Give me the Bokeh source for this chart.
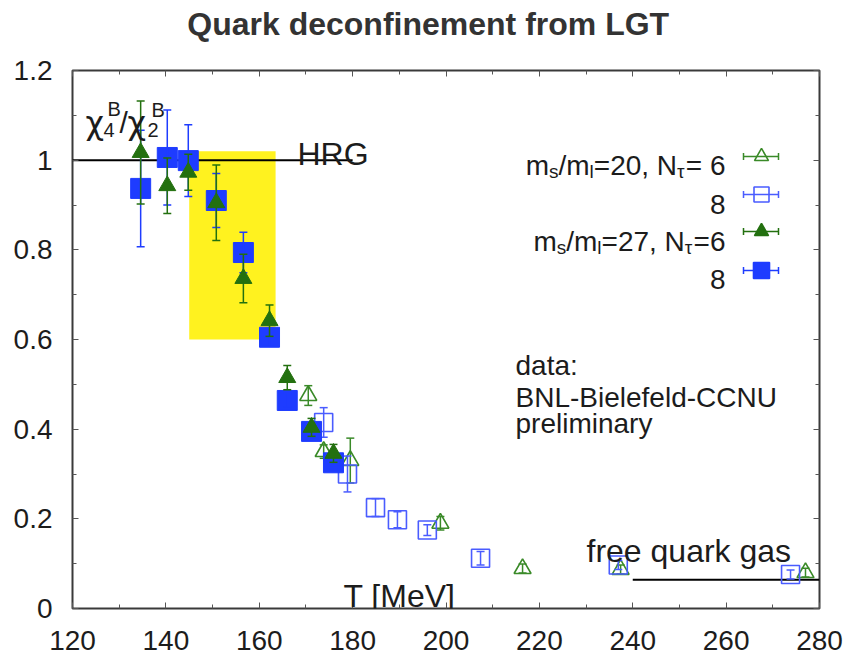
import math
from bokeh.plotting import figure
from bokeh.models import Range1d, FixedTicker, LinearAxis, Label
from bokeh.embed import file_html
from bokeh.resources import INLINE

# chi4/chi2 of baryon number vs temperature T [MeV]
# m_s/m_l = 20, N_tau = 6  (open triangles)
T_m20_nt6 = [170.5, 173.8, 179.5, 198.8, 216.4, 237.4, 277.0]
r_m20_nt6 = [0.475, 0.350, 0.330, 0.190, 0.089, 0.087, 0.080]
e_m20_nt6 = [0.022, 0.015, 0.050, 0.015, 0.010, 0.010, 0.010]

# m_s/m_l = 20, N_tau = 8  (open squares)
T_m20_nt8 = [173.8, 178.9, 184.9, 189.6, 196.0, 207.4, 236.9, 273.8]
r_m20_nt8 = [0.415, 0.300, 0.225, 0.198, 0.175, 0.112, 0.097, 0.076]
e_m20_nt8 = [0.033, 0.040, 0.020, 0.018, 0.012, 0.015, 0.010, 0.010]

# m_s/m_l = 27, N_tau = 6  (filled triangles)
T_m27_nt6 = [134.6, 140.3, 144.8, 150.8, 156.6, 162.2, 166.0, 171.2, 175.9]
r_m27_nt6 = [1.017, 0.943, 0.973, 0.905, 0.736, 0.642, 0.515, 0.404, 0.346]
e_m27_nt6 = [0.115, 0.062, 0.040, 0.084, 0.054, 0.035, 0.027, 0.020, 0.020]

# m_s/m_l = 27, N_tau = 8  (filled squares)
T_m27_nt8 = [134.6, 140.3, 144.8, 150.8, 156.6, 162.2, 166.0, 171.2, 175.9]
r_m27_nt8 = [0.937, 1.006, 0.999, 0.910, 0.794, 0.605, 0.464, 0.395, 0.325]
e_m27_nt8 = [0.130, 0.106, 0.080, 0.060, 0.045, 0.020, 0.015, 0.015, 0.015]

# reference limits: hadron resonance gas and free quark gas
hrg_T = [120, 180]
hrg_r = [1.0, 1.0]
sb_T = [240, 280]
sb_r = [0.064, 0.064]

# crossover band
band_T = [145.0, 163.5]
band_r = [0.60, 1.02]

x_ticks = [120, 140, 160, 180, 200, 220, 240, 260, 280]
x_minor = [130, 150, 170, 190, 210, 230, 250, 270]
y_ticks = [0.0, 0.2, 0.4, 0.6, 0.8, 1.0, 1.2]
y_minor = [0.1, 0.3, 0.5, 0.7, 0.9, 1.1]
y_tick_labels = ["0", "0.2", "0.4", "0.6", "0.8", "1", "1.2"]

HEADING = "Quark deconfinement from LGT"

GREEN = "#23700f"
GREEN_OPEN = "#3a8a28"
BLUE = "#1e3cff"
BLUE_OPEN = "#4a5cff"
YELLOW = "#fff21f"
INK = "#1c1c1c"
FONT = "Liberation Sans"

X0, X1 = 120, 280
Y0, Y1 = 0.0, 1.2
FL, FR, FT, FB = 72, 819, 70, 608   # frame edges on the canvas

p = figure(frame_width=FR - FL, frame_height=FB - FT,
           x_range=Range1d(X0, X1), y_range=Range1d(Y0, Y1),
           output_backend="svg", toolbar_location=None,
           min_border_left=FL, min_border_right=852 - FR,
           min_border_top=FT, min_border_bottom=658 - FB)

p.grid.visible = False
p.outline_line_color = "#3a3a3a"
p.outline_line_width = 2
p.background_fill_color = "white"
p.border_fill_color = "white"


def style_axis(ax, ticks, minor, labels=None):
    ax.ticker = FixedTicker(ticks=ticks, minor_ticks=minor)
    ax.axis_line_color = None
    ax.major_tick_in = 6
    ax.major_tick_out = 0
    ax.minor_tick_in = 4
    ax.minor_tick_out = 0
    ax.major_tick_line_color = "#555555"
    ax.minor_tick_line_color = "#555555"
    ax.major_tick_line_width = 1
    ax.minor_tick_line_width = 1
    ax.major_label_text_font = FONT
    ax.major_label_text_font_size = "28px"
    ax.major_label_text_color = INK
    if labels is not None:
        ax.major_label_overrides = {t: s for t, s in zip(ticks, labels)}


xb = p.xaxis[0]
yl = p.yaxis[0]
style_axis(xb, x_ticks, x_minor)
style_axis(yl, y_ticks, y_minor, y_tick_labels)
xb.major_label_standoff = 22
yl.major_label_standoff = 20

# mirrored tick marks on the top and right edges, without numbers;
# the top axis carries the heading as its label (trailing no-break
# spaces centre the words on the whole canvas rather than the frame)
xt = LinearAxis()
style_axis(xt, x_ticks, x_minor, [""] * len(x_ticks))
xt.major_label_text_font_size = "1px"
xt.major_label_standoff = 0
xt.axis_label = HEADING + "\u00a0" * 4
xt.axis_label_standoff = 29
xt.axis_label_text_font = FONT
xt.axis_label_text_font_style = "bold"
xt.axis_label_text_font_size = "32px"
xt.axis_label_text_color = "#333333"
p.add_layout(xt, "above")
yr = LinearAxis()
style_axis(yr, y_ticks, y_minor, [""] * len(y_ticks))
yr.major_label_text_font_size = "1px"
yr.major_label_standoff = 0
p.add_layout(yr, "right")

# crossover band and limiting values
p.quad(left=[band_T[0]], right=[band_T[1]], bottom=[band_r[0]], top=[band_r[1]],
       fill_color=YELLOW, line_color=None)
p.line(hrg_T, hrg_r, line_color="black", line_width=2)
p.line(sb_T, sb_r, line_color="black", line_width=2)


def errbars(T, r, e, color):
    lo = [a - b for a, b in zip(r, e)]
    hi = [a + b for a, b in zip(r, e)]
    p.segment(T, lo, T, hi, line_color=color, line_width=1.5)
    p.scatter(T + T, lo + hi, marker="dash", size=8, line_color=color, line_width=1.5)


errbars(T_m20_nt6, r_m20_nt6, e_m20_nt6, GREEN_OPEN)
p.scatter(T_m20_nt6, r_m20_nt6, marker="triangle", size=17, fill_color=None,
          line_color=GREEN_OPEN, line_width=1.6)

errbars(T_m20_nt8, r_m20_nt8, e_m20_nt8, BLUE_OPEN)
p.scatter(T_m20_nt8, r_m20_nt8, marker="square", size=18, fill_color=None,
          line_color=BLUE_OPEN, line_width=1.6)

p.scatter(T_m27_nt8, r_m27_nt8, marker="square", size=20, fill_color=BLUE,
          line_color=BLUE, line_width=1)
errbars(T_m27_nt8, r_m27_nt8, e_m27_nt8, BLUE)

errbars(T_m27_nt6, r_m27_nt6, e_m27_nt6, GREEN)
p.scatter(T_m27_nt6, r_m27_nt6, marker="triangle", size=17, fill_color=GREEN,
          line_color=GREEN, line_width=1)


# ---- annotations, placed in canvas pixels ----
def cx(px):
    return X0 + (px - FL) * (X1 - X0) / (FR - FL)


def cy(py):
    return Y0 + (FB - py) * (Y1 - Y0) / (FB - FT)


def label(px, py, s, size, align="left", color=INK, style="normal", font=FONT):
    p.add_layout(Label(x=cx(px), y=cy(py), text=s, text_font=font,
                       text_font_size=f"{size}px", text_align=align,
                       text_font_style=style,
                       text_baseline="alphabetic", text_color=color))


# Arial / Liberation Sans advance widths (per 1000 em)
ADV = {'m': 833, 's': 500, '/': 278, 'l': 222, '=': 584, '2': 556, '0': 556,
       '7': 556, '6': 556, '8': 556, ',': 278, ' ': 278, 'N': 722, 'τ': 460}


def width(s, size):
    return sum(ADV.get(c, 556) for c in s) * size / 1000.0


def rich(right_px, base_py, parts, size=28, sub=19):
    total = sum(width(t, sub if k == "sub" else size) for t, k in parts)
    x = right_px - total
    for t, k in parts:
        if k == "sub":
            label(x, base_py + 6, t, sub)
            x += width(t, sub)
        else:
            label(x, base_py, t, size)
            x += width(t, size)


label(297, 153, "HRG", 32)
label(586, 550, "free quark gas", 32)
label(343, 595, "T [MeV]", 32)
label(515, 365, "data:", 28)
label(515, 397, "BNL-Bielefeld-CCNU", 28)
label(515, 423, "preliminary", 28)

# chi_4^B / chi_2^B
label(85, 122, "χ", 32, font="DejaVu Sans")
label(103, 129, "4", 20)
label(107, 108, "B", 20)
label(119, 122, "/", 30)
label(127, 122, "χ", 32, font="DejaVu Sans")
label(147, 129, "2", 20)
label(151, 109, "B", 20)

# legend
rows = [
    ([("m", "n"), ("s", "sub"), ("/m", "n"), ("l", "sub"), ("=20, N", "n"),
      ("τ", "sub"), ("= 6", "n")], 165),
    ([("8", "n")], 204),
    ([("m", "n"), ("s", "sub"), ("/m", "n"), ("l", "sub"), ("=27, N", "n"),
      ("τ", "sub"), ("=6", "n")], 241),
    ([("8", "n")], 279),
]
for parts, base in rows:
    rich(725, base, parts)

sample_y = [156, 194, 231, 270]
sample_style = [
    ("triangle", None, GREEN_OPEN, 14),
    ("square", None, BLUE_OPEN, 15),
    ("triangle", GREEN, GREEN, 14),
    ("square", BLUE, BLUE, 16),
]
for py, (mk, fill, col, sz) in zip(sample_y, sample_style):
    yy = cy(py)
    p.segment([cx(743)], [yy], [cx(778)], [yy], line_color=col, line_width=1.5)
    p.scatter([cx(743), cx(778)], [yy, yy], marker="dash", angle=math.pi / 2,
              size=7, line_color=col, line_width=1.5)
    p.scatter([cx(761)], [yy], marker=mk, size=sz, fill_color=fill,
              line_color=col, line_width=1.6)

open("out.html", "w").write(file_html(p, INLINE))
